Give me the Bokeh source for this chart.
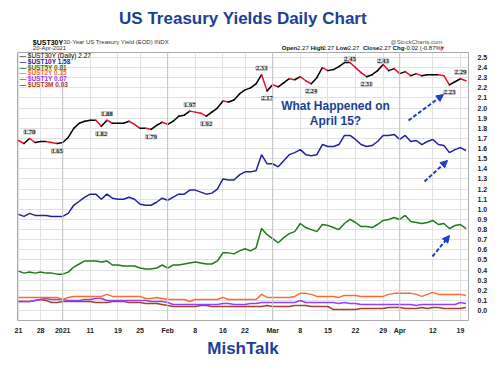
from bokeh.plotting import figure
from bokeh.layouts import column
from bokeh.models import ColumnDataSource, FixedTicker, Label, LabelSet, Arrow, NormalHead, Span, Range1d
from bokeh.embed import file_html
from bokeh.resources import INLINE

# ---------------- data ----------------
dates = ["Dec21","Dec22","Dec23","Dec24","Dec28","Dec29","Dec30","Dec31",
         "Jan04","Jan05","Jan06","Jan07","Jan08","Jan11","Jan12","Jan13","Jan14","Jan15",
         "Jan19","Jan20","Jan21","Jan22","Jan25","Jan26","Jan27","Jan28","Jan29",
         "Feb01","Feb02","Feb03","Feb04","Feb05","Feb08","Feb09","Feb10","Feb11","Feb12",
         "Feb16","Feb17","Feb18","Feb19","Feb22","Feb23","Feb24","Feb25","Feb26",
         "Mar01","Mar02","Mar03","Mar04","Mar05","Mar08","Mar09","Mar10","Mar11","Mar12",
         "Mar15","Mar16","Mar17","Mar18","Mar19","Mar22","Mar23","Mar24","Mar25","Mar26",
         "Mar29","Mar30","Mar31","Apr01","Apr05","Apr06","Apr07","Apr08","Apr09",
         "Apr12","Apr13","Apr14","Apr15","Apr16","Apr19","Apr20"]

ust30y = [1.68,1.65,1.70,1.66,1.67,1.67,1.66,1.65,
          1.66,1.71,1.80,1.85,1.87,1.88,1.88,1.82,1.88,1.85,
          1.85,1.85,1.87,1.84,1.80,1.80,1.79,1.83,1.86,
          1.84,1.87,1.92,1.93,1.97,1.96,1.95,1.92,1.96,2.00,
          2.07,2.06,2.08,2.14,2.18,2.20,2.24,2.33,2.17,
          2.23,2.21,2.25,2.29,2.28,2.31,2.27,2.24,2.30,2.40,
          2.37,2.38,2.41,2.45,2.45,2.40,2.35,2.31,2.33,2.37,
          2.43,2.37,2.39,2.34,2.36,2.32,2.34,2.32,2.33,
          2.33,2.33,2.32,2.23,2.26,2.29,2.27]

ust10y = [0.95,0.93,0.96,0.94,0.94,0.94,0.93,0.93,
          0.93,0.96,1.04,1.08,1.12,1.15,1.15,1.10,1.15,1.11,
          1.10,1.10,1.12,1.10,1.05,1.04,1.04,1.07,1.11,
          1.09,1.12,1.15,1.15,1.19,1.19,1.17,1.15,1.16,1.20,
          1.30,1.29,1.29,1.34,1.37,1.37,1.38,1.54,1.45,
          1.45,1.42,1.48,1.54,1.56,1.59,1.54,1.53,1.54,1.64,
          1.62,1.62,1.64,1.73,1.73,1.69,1.64,1.62,1.63,1.67,
          1.73,1.73,1.74,1.69,1.73,1.67,1.68,1.64,1.67,
          1.69,1.64,1.63,1.56,1.59,1.61,1.58]

ust5y = [0.39,0.37,0.38,0.37,0.38,0.37,0.37,0.36,
         0.36,0.38,0.43,0.46,0.49,0.49,0.49,0.48,0.49,0.45,
         0.45,0.44,0.44,0.44,0.42,0.41,0.41,0.42,0.45,
         0.42,0.45,0.45,0.46,0.47,0.48,0.47,0.46,0.46,0.49,
         0.57,0.57,0.56,0.59,0.61,0.59,0.62,0.81,0.75,
         0.71,0.67,0.72,0.76,0.78,0.86,0.82,0.80,0.78,0.85,
         0.84,0.82,0.80,0.86,0.90,0.87,0.83,0.83,0.82,0.85,
         0.89,0.90,0.92,0.90,0.94,0.88,0.87,0.86,0.87,
         0.89,0.85,0.86,0.81,0.84,0.85,0.81]

ust2y = [0.13,0.13,0.13,0.13,0.13,0.13,0.13,0.13,
         0.11,0.13,0.14,0.14,0.14,0.14,0.14,0.14,0.16,0.14,
         0.14,0.14,0.14,0.14,0.14,0.12,0.12,0.13,0.12,
         0.11,0.11,0.11,0.11,0.09,0.11,0.11,0.11,0.11,0.11,
         0.13,0.11,0.11,0.11,0.11,0.11,0.11,0.16,0.13,
         0.13,0.13,0.13,0.13,0.14,0.17,0.17,0.16,0.14,0.14,
         0.14,0.14,0.13,0.15,0.15,0.15,0.14,0.14,0.14,0.14,
         0.14,0.16,0.17,0.17,0.17,0.17,0.16,0.14,0.16,
         0.18,0.16,0.16,0.16,0.16,0.16,0.15]

ust1y = [0.09,0.09,0.09,0.10,0.11,0.12,0.11,0.11,
         0.11,0.10,0.10,0.10,0.11,0.11,0.12,0.12,0.10,0.10,
         0.10,0.10,0.10,0.10,0.10,0.10,0.09,0.09,0.09,
         0.08,0.06,0.06,0.06,0.06,0.06,0.06,0.06,0.06,0.06,
         0.07,0.07,0.06,0.06,0.06,0.07,0.07,0.08,0.08,
         0.08,0.08,0.08,0.08,0.08,0.10,0.08,0.08,0.08,0.08,
         0.08,0.08,0.07,0.08,0.07,0.07,0.06,0.06,0.06,0.06,
         0.06,0.06,0.06,0.06,0.06,0.06,0.05,0.06,0.06,
         0.06,0.06,0.06,0.06,0.06,0.08,0.07]

ust3m = [0.09,0.09,0.09,0.10,0.11,0.10,0.08,0.08,
         0.09,0.09,0.09,0.09,0.09,0.09,0.08,0.08,0.08,0.09,
         0.09,0.09,0.08,0.08,0.08,0.07,0.07,0.07,0.06,
         0.05,0.04,0.04,0.04,0.04,0.04,0.05,0.05,0.04,0.04,
         0.04,0.04,0.04,0.04,0.04,0.04,0.04,0.04,0.05,
         0.04,0.04,0.04,0.04,0.05,0.05,0.05,0.04,0.04,0.04,
         0.04,0.01,0.01,0.01,0.01,0.01,0.02,0.02,0.02,0.02,
         0.02,0.03,0.03,0.03,0.02,0.02,0.02,0.03,0.02,
         0.03,0.03,0.02,0.02,0.02,0.02,0.03]

tick_idx = [0, 4, 8, 13, 18, 22, 27, 32, 37, 41, 46, 51, 56, 61, 66, 69, 75, 80]
tick_labels = ["21", "28", "2021", "11", "19", "25", "Feb", "8", "16", "22",
               "Mar", "8", "15", "22", "29", "Apr", "12", "19"]
month_idx = [8, 27, 46, 69]
y_ticks = [0.0, 0.1, 0.2, 0.3, 0.4, 0.5, 0.6, 0.7, 0.8, 0.9, 1.0, 1.1, 1.2,
           1.3, 1.4, 1.5, 1.6, 1.7, 1.8, 1.9, 2.0, 2.1, 2.2, 2.3, 2.4, 2.5]

# swing labels on the 30Y line (index of trading day)
hi_idx = [2, 16, 31, 44, 80]
top_hi_idx = [60, 66]          # highs close to the top edge
lo_idx = [7, 15, 24, 34, 45, 53, 63, 78]

legend_items = [("\u2014 $UST30Y (Daily) 2.27", "#000000", "normal"),
                ("\u2014 $UST10Y 1.58", "#22229f", "bold"),
                ("\u2014 $UST5Y 0.81", "#1e7b1e", "bold"),
                ("\u2014 $UST2Y 0.15", "#ff6a2a", "bold"),
                ("\u2014 $UST1Y 0.07", "#9040ff", "bold"),
                ("\u2014 $UST3M 0.03", "#a5402a", "bold")]

# ---------------- styling ----------------
C30_UP, C30_DN = "#000000", "#e8102a"
C10, C5, C2, C1, C3M = "#22229f", "#1e7b1e", "#ff6a2a", "#9040ff", "#a5402a"
BLUE_TXT = "#1c3f94"
FONT = "Liberation Sans"
W = 500
TOP_H, BOT_H = 52, 34
MAIN_H = 370 - TOP_H - BOT_H

idx = list(range(len(dates)))


def text_strip(h, y0):
    """A plain figure used only to carry text, mapped to page pixels."""
    f = figure(width=W, height=h, output_backend="svg", toolbar_location=None,
               x_range=Range1d(0, W), y_range=Range1d(y0 + h, y0),
               x_axis_location=None, y_axis_location=None,
               min_border=0, min_border_left=0, min_border_right=0,
               min_border_top=0, min_border_bottom=0)
    f.grid.visible = False
    f.outline_line_color = None
    f.background_fill_color = "white"
    f.border_fill_color = "white"
    return f


def add_txt(fig, t, x, y, size, color="#000000", style="normal", align="left",
            units="data", font=FONT):
    fig.add_layout(Label(x=x, y=y, x_units=units, y_units=units, text=t,
                         text_font=font, text_font_size=size, text_font_style=style,
                         text_color=color, text_align=align, text_baseline="middle"))


# ---------------- header strip ----------------
top = text_strip(TOP_H, 0)
add_txt(top, "US Treasury Yields Daily Chart", 250, 18, "17px", BLUE_TXT, "bold", "center")
add_txt(top, "$UST30Y", 17, 41.5, "7px", style="bold")
add_txt(top, "30-Year US Treasury Yield (EOD) INDX", 51, 41.5, "6px", "#333333")
add_txt(top, "20-Apr-2021", 17, 47.8, "6px", "#333333")
add_txt(top, "@StockCharts.com", 471, 41.5, "6px", "#555555", align="right")
ohlc = [("Open", 293, "bold"), ("2.27", 310, "normal"), ("High", 325, "bold"),
        ("2.27", 338, "normal"), ("Low", 353, "bold"), ("2.27", 366, "normal"),
        ("Close", 383, "bold"), ("2.27", 401, "normal"), ("Chg", 416, "bold"),
        ("-0.02 (-0.87%)", 429, "normal")]
for t, x, st in ohlc:
    add_txt(top, t, x, 47.8, "6px", "#111111", st)
add_txt(top, "\u25BC", 468, 47.8, "5.5px", "#e8102a")

# ---------------- main chart ----------------
p = figure(width=W, height=MAIN_H, output_backend="svg", toolbar_location=None,
           x_range=(-0.18, 81.45), y_range=(-0.098, 2.549), y_axis_location="right",
           min_border_left=17, min_border_right=32, min_border_top=0, min_border_bottom=14)
p.background_fill_color = "white"
p.border_fill_color = "white"
p.outline_line_color = "#aaaaaa"

p.xaxis.ticker = FixedTicker(ticks=tick_idx)
p.xaxis.major_label_overrides = {i: t for i, t in zip(tick_idx, tick_labels)}
p.yaxis.ticker = FixedTicker(ticks=y_ticks)
p.yaxis.major_label_overrides = {v: f"{v:.1f}" for v in y_ticks}
for ax in (p.xaxis[0], p.yaxis[0]):
    ax.axis_line_color = None
    ax.major_tick_line_color = None
    ax.minor_tick_line_color = None
    ax.major_label_text_font = FONT
    ax.major_label_text_font_size = "7px"
    ax.major_label_text_font_style = "bold"
    ax.major_label_text_color = "#222222"
p.xaxis.major_label_standoff = 0
p.yaxis.major_label_standoff = 3
p.xgrid.grid_line_color = "#e2e2e2"
p.ygrid.grid_line_color = "#e2e2e2"

for m in month_idx:
    p.add_layout(Span(location=m, dimension="height", line_color="#c4c4c4", line_width=1))

p.line(idx, ust3m, line_color=C3M, line_width=1.5)
p.line(idx, ust1y, line_color=C1, line_width=1.5)
p.line(idx, ust2y, line_color=C2, line_width=1.5)
p.line(idx, ust5y, line_color=C5, line_width=1.5)
p.line(idx, ust10y, line_color=C10, line_width=1.5)

seg = ColumnDataSource(dict(
    x0=idx[:-1], x1=idx[1:], y0=ust30y[:-1], y1=ust30y[1:],
    c=[C30_DN if b < a else C30_UP for a, b in zip(ust30y[:-1], ust30y[1:])]))
p.segment("x0", "y0", "x1", "y1", source=seg, line_color="c", line_width=1.5, line_cap="round")


def swing_labels(ids, off):
    src = ColumnDataSource(dict(x=ids, y=[ust30y[i] for i in ids],
                                t=[f"{ust30y[i]:.2f}" for i in ids]))
    p.add_layout(LabelSet(x="x", y="y", text="t", source=src, y_offset=off,
                          text_align="center", text_baseline="middle",
                          text_font="Liberation Serif", text_font_size="6.5px",
                          text_font_style="bold", text_color="#222222",
                          background_fill_color="#f2f2f2", border_line_color="#b0b0b0"))


swing_labels(hi_idx, 6.5)
swing_labels(top_hi_idx, 3.5)
swing_labels(lo_idx, -7.5)

# page pixel -> frame screen coords (frame left/bottom on the page)
FL, FB = 17, 322


def sx(x):
    return x - FL


def sy(y):
    return FB - y


for k, (t, c, st) in enumerate(legend_items):
    add_txt(p, t, sx(19), sy(57 + 5.8 * k), "6.5px", c, st, units="screen")

add_txt(p, "What Happened on", sx(335), sy(107), "12px", BLUE_TXT, "bold", "center", units="screen")
add_txt(p, "April 15?", sx(335), sy(122), "12px", BLUE_TXT, "bold", "center", units="screen")

for (xa, ya, xb, yb) in [(408, 122, 443, 96), (424, 183, 447, 162), (432, 258, 449, 237)]:
    p.add_layout(Arrow(x_start=sx(xa), y_start=sy(ya), x_end=sx(xb), y_end=sy(yb),
                       start_units="screen", end_units="screen",
                       line_color="#1f3fcf", line_width=2, line_dash="4 2",
                       end=NormalHead(size=7, fill_color="#1f3fcf", line_color="#1f3fcf")))

# ---------------- footer strip ----------------
bot = text_strip(BOT_H, 370 - BOT_H)
add_txt(bot, "MishTalk", 250, 348, "17px", BLUE_TXT, "bold", "center")

layout = column(top, p, bot, spacing=0)
open("out.html", "w").write(file_html(layout, INLINE))
